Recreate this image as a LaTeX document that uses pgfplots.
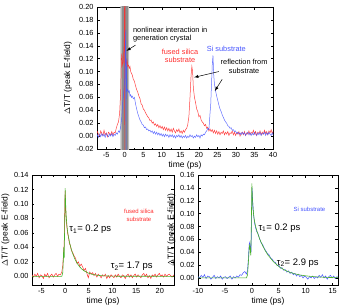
\documentclass[border=0pt]{standalone}
\usepackage{pgfplots}
\pgfplotsset{compat=1.18}
\usepackage{fontspec}
\setmainfont{Liberation Sans}
\definecolor{myred}{RGB}{255,45,45}
\definecolor{myblue}{RGB}{70,85,255}
\definecolor{mygreen}{RGB}{70,175,40}
\pgfplotsset{
  myax/.style={
    scale only axis,
    anchor=north west,
    axis line style={line width=0.5pt},
    tick align=inside,
    major tick length=2.5bp,
    minor tick length=1.5bp,
    tick style={line width=0.4pt,black},
    /pgf/number format/assume math mode=true,
    ticklabel style={font=\fontsize{7.4}{8}\selectfont},
    label style={font=\fontsize{8.5}{9}\selectfont},
    yticklabel style={/pgf/number format/.cd,fixed,fixed zerofill,precision=2},
    ylabel={$\Delta$T/T (peak E-field)},
    xlabel={time (ps)},
    clip=true,
    minor x tick num=1,
  }
}
\begin{document}
\begin{tikzpicture}
\useasboundingbox (0,0) rectangle (341bp,-307bp);
% ---------------- top axis
\begin{axis}[myax,
  at={(97bp,-7bp)}, width=176bp, height=142bp,
  xmin=-7.5, xmax=40, ymin=-0.02, ymax=0.20,
  xtick={-5,0,5,10,15,20,25,30,35,40},
  ytick={-0.02,0,0.02,0.04,0.06,0.08,0.10,0.12,0.14,0.16,0.18,0.20},
  ylabel style={yshift=-2bp},
  xlabel style={yshift=3bp},
]
\addplot[fill=black!25, draw=none] coordinates {(-1.2,-0.03) (1.2,-0.03) (1.2,0.21) (-1.2,0.21)} \closedcycle;
\addplot[fill=black!45, draw=none] coordinates {(-0.8,-0.03) (0.8,-0.03) (0.8,0.21) (-0.8,0.21)} \closedcycle;
\addplot[myred, line width=0.5pt, opacity=0.9] table {
-8.0 0.004
-7.7 0.002
-7.4 0.007
-7.1 0.003
-6.8 0.000
-6.5 0.008
-6.2 0.004
-5.9 0.001
-5.6 0.009
-5.3 0.002
-5.0 0.005
-4.7 -0.001
-4.4 0.006
-4.1 0.004
-3.8 0.002
-3.5 0.007
-3.2 0.001
-2.9 0.006
-2.6 0.005
-2.3 0.012
-2.0 0.018
-1.7 0.022
-1.4 0.035
-1.1 0.07
-0.9 0.12
-0.8 0.128
-0.6 0.11
-0.4 0.115
-0.2 0.14
-0.1 0.16
-0.05 0.25
0.0 -0.05
0.05 0.25
0.12 0.13
0.2 0.115
0.4 0.112
0.6 0.118
0.8 0.108
1.0 0.11
1.2 0.105
1.4 0.108
1.6 0.1
1.8 0.097
2.0 0.095
2.3 0.088
2.6 0.085
2.9 0.078
3.2 0.072
3.5 0.068
3.8 0.062
4.1 0.058
4.4 0.05
4.7 0.048
5.0 0.042
5.3 0.04
5.6 0.036
5.9 0.033
6.2 0.03
6.5 0.028
6.8 0.024
7.1 0.025
7.4 0.02
7.7 0.022
8.0 0.017
8.3 0.019
8.6 0.015
8.9 0.018
9.2 0.013
9.5 0.016
9.8 0.012
10.1 0.015
10.4 0.010
10.7 0.014
11.0 0.009
11.3 0.013
11.6 0.008
11.9 0.012
12.2 0.007
12.5 0.011
12.8 0.006
13.1 0.012
13.4 0.008
13.7 0.005
14.0 0.010
14.3 0.007
14.6 0.011
14.9 0.005
15.2 0.008
15.5 0.004
15.8 0.009
16.1 0.006
16.4 0.010
16.7 0.012
17.0 0.018
17.3 0.03
17.6 0.06
17.9 0.095
18.1 0.108
18.3 0.1
18.5 0.075
18.8 0.06
19.1 0.052
19.4 0.042
19.7 0.038
20.0 0.03
20.3 0.032
20.6 0.025
20.9 0.022
21.2 0.02
21.5 0.016
21.8 0.018
22.1 0.012
22.4 0.014
22.7 0.008
23.0 0.011
23.3 0.007
23.6 0.010
23.9 0.005
24.2 0.009
24.5 0.004
24.8 0.008
25.1 0.003
25.4 0.007
25.7 0.002
26.0 0.006
26.3 0.004
26.6 0.008
26.9 0.002
27.2 0.006
27.5 0.003
27.8 0.007
28.1 0.001
28.4 0.005
28.7 0.004
29.0 0.008
29.3 0.002
29.6 0.006
29.9 0.001
30.2 0.005
30.5 0.003
30.8 0.007
31.1 0.000
31.4 0.004
31.7 0.006
32.0 0.002
32.3 0.007
32.6 0.001
32.9 0.005
33.2 0.003
33.5 0.008
33.8 0.002
34.1 0.006
34.4 0.004
34.7 0.009
35.0 0.003
35.3 0.007
35.6 0.001
35.9 0.006
36.2 0.004
36.5 0.008
36.8 0.002
37.1 0.006
37.4 0.003
37.7 0.009
38.0 0.004
38.3 0.007
38.6 0.002
38.9 0.008
39.2 0.005
39.5 0.010
39.8 0.004
40.0 0.007
};
\addplot[myblue, line width=0.5pt, opacity=0.85] table {
-8.0 0.001
-7.7 -0.003
-7.4 0.002
-7.1 -0.002
-6.8 0.003
-6.5 -0.001
-6.2 0.004
-5.9 0.000
-5.6 0.003
-5.3 -0.002
-5.0 0.004
-4.7 0.001
-4.4 -0.001
-4.1 0.003
-3.8 0.000
-3.5 0.004
-3.2 -0.001
-2.9 0.003
-2.6 0.001
-2.3 0.005
-2.0 0.003
-1.7 0.008
-1.4 0.006
-1.1 0.015
-0.8 0.03
-0.6 0.05
-0.4 0.06
-0.2 0.075
0.0 0.09
0.15 0.14
0.28 0.165
0.35 -0.05
0.42 0.12
0.6 0.07
0.8 0.072
1.0 0.068
1.2 0.07
1.4 0.062
1.6 0.064
1.8 0.06
2.0 0.062
2.3 0.058
2.6 0.06
2.9 0.05
3.2 0.042
3.5 0.035
3.8 0.03
4.1 0.025
4.4 0.022
4.7 0.018
5.0 0.017
5.3 0.013
5.6 0.014
5.9 0.01
6.2 0.011
6.5 0.008
6.8 0.009
7.1 0.006
7.4 0.008
7.7 0.004
8.0 0.007
8.3 0.003
8.6 0.006
8.9 0.002
9.2 0.005
9.5 0.001
9.8 0.004
10.1 0.000
10.4 0.003
10.7 -0.001
11.0 0.003
11.3 0.000
11.6 0.002
11.9 -0.002
12.2 0.002
12.5 -0.001
12.8 0.002
13.1 -0.002
13.4 0.001
13.7 -0.003
14.0 0.001
14.3 -0.001
14.6 0.002
14.9 -0.002
15.2 0.001
15.5 -0.003
15.8 0.000
16.1 -0.002
16.4 0.001
16.7 -0.003
17.0 0.000
17.3 -0.002
17.6 0.002
17.9 -0.001
18.2 0.001
18.5 -0.003
18.8 0.000
19.1 -0.002
19.4 0.002
19.7 -0.001
20.0 0.001
20.3 -0.003
20.6 0.002
20.9 0.000
21.2 0.003
21.5 0.002
21.8 0.006
22.1 0.008
22.4 0.012
22.7 0.01
23.0 0.035
23.2 0.05
23.4 0.08
23.6 0.11
23.8 0.125
24.0 0.095
24.2 0.08
24.5 0.07
24.8 0.062
25.1 0.055
25.4 0.048
25.7 0.042
26.0 0.038
26.3 0.033
26.6 0.029
26.9 0.025
27.2 0.022
27.5 0.02
27.8 0.016
28.1 0.015
28.4 0.012
28.7 0.013
29.0 0.009
29.3 0.010
29.6 0.007
29.9 0.008
30.2 0.004
30.5 0.006
30.8 0.003
31.1 0.005
31.4 0.002
31.7 0.006
32.0 0.003
32.3 0.005
32.6 0.001
32.9 0.004
33.2 0.006
33.5 0.002
33.8 0.005
34.1 0.001
34.4 0.004
34.7 0.002
35.0 0.006
35.3 0.003
35.6 0.001
35.9 0.005
36.2 0.002
36.5 0.006
36.8 0.001
37.1 0.004
37.4 0.003
37.7 0.006
38.0 0.001
38.3 0.005
38.6 0.002
38.9 0.006
39.2 0.003
39.5 0.001
39.8 0.005
40.0 0.002
};
\node[anchor=west, align=left, font=\fontsize{7.4}{8.6}\selectfont, inner sep=0pt] at (axis cs:2.2,0.157) {nonlinear interaction in\\generation crystal};
\draw[-latex, line width=0.5pt] (axis cs:2.9,0.141) -- (axis cs:0.45,0.132);
\node[align=center, font=\fontsize{7.4}{8.6}\selectfont, text=myred, inner sep=0pt] at (axis cs:14.9,0.124) {fused silica\\substrate};
\node[font=\fontsize{7.4}{8.6}\selectfont, text=myblue, inner sep=0pt] at (axis cs:27.4,0.135) {Si substrate};
\node[align=center, font=\fontsize{7.4}{8.6}\selectfont, inner sep=0pt] at (axis cs:32.2,0.108) {reflection from\\substrate};
\draw[-latex, line width=0.5pt] (axis cs:25.4,0.100) -- (axis cs:18.7,0.091);
\draw[-latex, line width=0.5pt] (axis cs:26.3,0.088) -- (axis cs:24.3,0.070);
\end{axis}
% ---------------- bottom left
\begin{axis}[myax,
  at={(32bp,-175bp)}, width=142bp, height=110bp,
  xmin=-7, xmax=23, ymin=-0.012, ymax=0.14,
  xtick={-5,0,5,10,15,20},
  ytick={0,0.02,0.04,0.06,0.08,0.10,0.12,0.14},
  ylabel style={yshift=-2bp},
  xlabel style={yshift=3bp},
]
\addplot[myred, line width=0.5pt] table {
-7.0 0.002
-6.7 -0.001
-6.4 0.003
-6.1 0.000
-5.8 0.004
-5.5 -0.002
-5.2 0.002
-4.9 0.001
-4.6 -0.003
-4.3 0.003
-4.0 0.000
-3.7 0.004
-3.4 -0.002
-3.1 0.001
-2.8 0.003
-2.5 -0.001
-2.2 0.002
-1.9 0.004
-1.6 0.000
-1.3 0.003
-1.0 0.002
-0.7 0.006
-0.5 0.015
-0.35 0.03
-0.2 0.045
-0.1 0.08
0.0 0.118
0.1 0.095
0.2 0.08
0.35 0.07
0.5 0.06
0.7 0.055
0.9 0.045
1.1 0.043
1.3 0.036
1.6 0.033
1.9 0.028
2.2 0.025
2.5 0.018
2.8 0.02
3.1 0.014
3.4 0.017
3.7 0.013
4.0 0.008
4.3 0.011
4.6 0.004
4.9 -0.002
5.2 0.006
5.5 0.003
5.8 0.005
6.1 0.001
6.4 0.004
6.7 -0.001
7.0 0.003
7.3 0.001
7.6 -0.002
7.9 0.002
8.2 0.000
8.5 0.003
8.8 -0.003
9.1 0.001
9.4 -0.002
9.7 0.002
10.0 0.000
10.3 -0.002
10.6 0.002
10.9 -0.001
11.2 0.003
11.5 0.000
11.8 -0.002
12.1 0.002
12.4 0.001
12.7 -0.003
13.0 0.001
13.3 0.003
13.6 -0.001
13.9 0.002
14.2 -0.002
14.5 0.001
14.8 0.003
15.1 -0.001
15.4 0.002
15.7 0.000
16.0 -0.002
16.3 0.002
16.6 0.004
16.9 0.000
17.2 0.003
17.5 -0.002
17.8 0.001
18.1 -0.003
18.4 0.002
18.7 0.000
19.0 0.003
19.3 -0.001
19.6 0.002
19.9 0.004
20.2 0.000
20.5 0.002
20.8 -0.001
21.1 0.003
21.4 0.000
21.7 0.002
22.0 0.003
22.3 0.001
22.6 -0.001
23.0 0.002
};
\addplot[mygreen, line width=0.6pt] table {
-7 0
-0.7 0
-0.5 0.005
-0.4 0.02
-0.3 0.04
-0.2 0.025
-0.1 0.07
0.0 0.122
0.1 0.101
0.2 0.0866
0.3 0.0764
0.4 0.0689
0.5 0.063
0.7 0.0543
1.0 0.0447
1.5 0.0331
2.0 0.0247
2.5 0.0184
3.0 0.0137
3.5 0.0102
4.0 0.0076
5.0 0.0042
6.0 0.0023
7.0 0.0013
8.0 0.0007
10.0 0.0002
12.0 0.0001
23.0 0
};
\node[anchor=west, font=\fontsize{9.5}{10}\selectfont, inner sep=0pt] at (axis cs:0.85,0.065) {τ\textsubscript{1}= 0.2 ps};
\node[anchor=west, font=\fontsize{9.5}{10}\selectfont, inner sep=0pt] at (axis cs:9.6,0.0137) {τ\textsubscript{2}= 1.7 ps};
\node[align=center, font=\fontsize{6}{7.5}\selectfont, text=myred, inner sep=0pt] at (axis cs:15.6,0.084) {fused silica\\substrate};
\end{axis}
% ---------------- bottom right
\begin{axis}[myax,
  at={(198bp,-175bp)}, width=140bp, height=110bp,
  xmin=-10, xmax=16, ymin=-0.011, ymax=0.16,
  xtick={-10,-5,0,5,10,15},
  ytick={0,0.02,0.04,0.06,0.08,0.10,0.12,0.14,0.16},
  ylabel style={yshift=-2bp},
  xlabel style={yshift=3bp},
]
\addplot[myblue, line width=0.5pt] table {
-10.0 0.002
-9.7 0.000
-9.4 0.004
-9.1 0.001
-8.8 0.005
-8.5 -0.001
-8.2 0.003
-7.9 0.002
-7.6 -0.002
-7.3 0.001
-7.0 0.004
-6.7 -0.001
-6.4 0.002
-6.1 0.000
-5.8 0.003
-5.5 -0.002
-5.2 0.001
-4.9 0.002
-4.6 -0.001
-4.3 0.001
-4.0 0.003
-3.7 -0.002
-3.4 0.002
-3.1 0.000
-2.8 0.003
-2.5 0.001
-2.2 0.005
-1.9 0.004
-1.6 0.008
-1.3 0.010
-1.0 0.006
-0.8 0.012
-0.65 0.03
-0.5 0.052
-0.4 0.055
-0.3 0.05
-0.15 0.04
-0.05 0.09
0.05 0.14
0.15 0.12
0.3 0.1
0.5 0.085
0.7 0.078
0.9 0.072
1.1 0.07
1.4 0.062
1.7 0.055
2.0 0.052
2.3 0.046
2.6 0.042
2.9 0.038
3.2 0.036
3.5 0.031
3.8 0.029
4.1 0.025
4.4 0.024
4.7 0.019
5.0 0.02
5.3 0.015
5.6 0.016
5.9 0.012
6.2 0.013
6.5 0.009
6.8 0.011
7.1 0.007
7.4 0.009
7.7 0.005
8.0 0.007
8.3 0.003
8.6 0.006
8.9 0.002
9.2 0.004
9.5 0.000
9.8 0.003
10.1 0.001
10.4 -0.002
10.7 0.002
11.0 0.000
11.3 0.003
11.6 -0.001
11.9 0.002
12.2 0.000
12.5 0.004
12.8 0.001
13.1 0.005
13.4 0.000
13.7 0.003
14.0 -0.002
14.3 0.002
14.6 0.004
14.9 0.000
15.2 0.003
15.5 -0.001
15.8 0.002
16.0 0.001
};
\addplot[mygreen, line width=0.6pt] table {
-10 0
-1.0 0
-0.8 0.005
-0.6 0.03
-0.45 0.05
-0.3 0.045
-0.2 0.035
-0.1 0.08
0.0 0.147
0.1 0.125
0.2 0.1106
0.3 0.1007
0.4 0.0935
0.5 0.0881
0.7 0.080
1.0 0.0712
1.5 0.0596
2.0 0.0502
2.5 0.0422
3.0 0.0355
4.0 0.0252
5.0 0.0178
6.0 0.0126
7.0 0.0089
8.0 0.0063
9.0 0.0045
10.0 0.0032
12.0 0.0016
14.0 0.0008
16.0 0.0004
};
\node[anchor=west, font=\fontsize{9.5}{10}\selectfont, inner sep=0pt] at (axis cs:1.2,0.0775) {τ\textsubscript{1}= 0.2 ps};
\node[anchor=west, font=\fontsize{9.5}{10}\selectfont, inner sep=0pt] at (axis cs:4.6,0.0233) {τ\textsubscript{2}= 2.9 ps};
\node[font=\fontsize{6}{7.5}\selectfont, text=myblue, inner sep=0pt] at (axis cs:10.7,0.107) {Si substrate};
\end{axis}
\end{tikzpicture}
\end{document}
